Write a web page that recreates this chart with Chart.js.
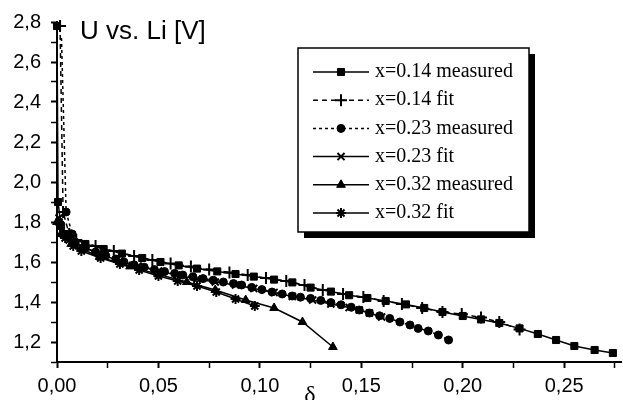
<!DOCTYPE html>
<html>
<head>
<meta charset="utf-8">
<script src="https://cdn.jsdelivr.net/npm/chart.js@4/dist/chart.umd.min.js"></script>
<style>
  html, body { margin: 0; padding: 0; background: #fff; }
  #wrap { width: 623px; height: 400px; }
</style>
</head>
<body>
<div id="wrap"><canvas id="chart" width="623" height="400"></canvas></div>
<script>
// x = 0.14 measured
const delta14m = [0, 0.0005, 0.002, 0.004, 0.014, 0.023, 0.032, 0.042, 0.051, 0.060, 0.069, 0.079, 0.088, 0.097, 0.107, 0.116, 0.125, 0.135, 0.144, 0.153, 0.162, 0.172, 0.181, 0.190, 0.200, 0.209, 0.218, 0.228, 0.237, 0.246, 0.255, 0.265, 0.274];
const u14m = [2.78, 1.90, 1.78, 1.74, 1.69, 1.665, 1.642, 1.62, 1.60, 1.583, 1.567, 1.553, 1.54, 1.527, 1.512, 1.498, 1.472, 1.452, 1.434, 1.42, 1.405, 1.388, 1.37, 1.35, 1.33, 1.313, 1.295, 1.268, 1.24, 1.21, 1.18, 1.16, 1.145];

// x = 0.14 fit
const delta14f = [0.0015, 0.003, 0.006, 0.0095, 0.019, 0.028, 0.038, 0.047, 0.056, 0.066, 0.075, 0.085, 0.094, 0.103, 0.113, 0.122, 0.131, 0.141, 0.151, 0.161, 0.170, 0.180, 0.190, 0.1995, 0.209, 0.218, 0.228];
const u14f = [2.78, 1.85, 1.74, 1.71, 1.68, 1.655, 1.63, 1.61, 1.592, 1.577, 1.562, 1.548, 1.535, 1.52, 1.505, 1.485, 1.46, 1.44, 1.425, 1.405, 1.39, 1.37, 1.35, 1.34, 1.322, 1.30, 1.262];

// x = 0.23 measured
const delta23m = [0.0022, 0.0045, 0.0075, 0.009, 0.014, 0.019, 0.024, 0.029, 0.033, 0.038, 0.043, 0.048, 0.053, 0.058, 0.062, 0.067, 0.072, 0.077, 0.082, 0.087, 0.091, 0.096, 0.101, 0.106, 0.111, 0.116, 0.120, 0.125, 0.130, 0.135, 0.140, 0.145, 0.149, 0.154, 0.159, 0.164, 0.169, 0.174, 0.178, 0.183, 0.188, 0.193];
const u23m = [2.72, 1.85, 1.74, 1.70, 1.672, 1.65, 1.632, 1.615, 1.60, 1.586, 1.574, 1.562, 1.552, 1.543, 1.535, 1.526, 1.517, 1.509, 1.50, 1.492, 1.485, 1.473, 1.462, 1.45, 1.44, 1.43, 1.424, 1.418, 1.408, 1.397, 1.386, 1.374, 1.36, 1.345, 1.331, 1.318, 1.30, 1.285, 1.268, 1.255, 1.235, 1.21];

// x = 0.23 fit
const delta23f = [0.001, 0.003, 0.006, 0.0115, 0.021, 0.031, 0.040, 0.050, 0.059, 0.069, 0.078, 0.088, 0.097, 0.107, 0.116, 0.126, 0.135, 0.144, 0.149, 0.154, 0.160];
const u23f = [1.82, 1.74, 1.71, 1.68, 1.64, 1.605, 1.58, 1.555, 1.535, 1.515, 1.50, 1.485, 1.468, 1.448, 1.428, 1.41, 1.39, 1.372, 1.36, 1.345, 1.325];

// x = 0.32 measured
const delta32m = [0, 0.002, 0.007, 0.021, 0.036, 0.050, 0.064, 0.078, 0.093, 0.107, 0.121, 0.136];
const u32m = [1.80, 1.74, 1.69, 1.625, 1.578, 1.538, 1.50, 1.46, 1.41, 1.37, 1.30, 1.175];

// x = 0.32 fit
const delta32f = [0.001, 0.004, 0.008, 0.012, 0.0215, 0.031, 0.0405, 0.050, 0.0595, 0.069, 0.0785, 0.088, 0.0975];
const u32f = [1.80, 1.72, 1.68, 1.655, 1.62, 1.59, 1.56, 1.53, 1.505, 1.48, 1.45, 1.415, 1.38];

const labels = ["x=0.14 measured", "x=0.14 fit", "x=0.23 measured", "x=0.23 fit", "x=0.32 measured", "x=0.32 fit"];

const toPts = (xs, ys) => xs.map((x, i) => ({ x, y: ys[i] }));
const fmtComma = (v, d) => v.toFixed(d).replace(".", ",");
const onStep = (v, step) => Math.abs(v / step - Math.round(v / step)) < 1e-6;

const mk = (label, data, style, radius, dash) => ({
  label,
  data,
  showLine: true,
  borderColor: "#000",
  backgroundColor: "#000",
  borderWidth: 1.5,
  borderDash: dash,
  pointStyle: style,
  pointRadius: radius,
  pointBorderWidth: style === "cross" || style === "crossRot" || style === "star" ? 2 : 1,
  pointBackgroundColor: "#000",
  pointBorderColor: "#000",
  tension: 0,
  clip: false,
});

const datasets = [
  mk(labels[0], toPts(delta14m, u14m), "rect", 5, []),
  mk(labels[1], toPts(delta14f, u14f), "cross", 6, [5, 4]),
  mk(labels[2], toPts(delta23m, u23m), "circle", 4, [3, 3]),
  mk(labels[3], toPts(delta23f, u23f), "crossRot", 5, []),
  mk(labels[4], toPts(delta32m, u32m), "triangle", 5, []),
  mk(labels[5], toPts(delta32f, u32f), "star", 5, []),
];
// the dotted curve starts high on the axis without a visible dot
datasets[2].pointRadius = (c) => (c.dataIndex === 0 ? 0 : 4);

const boxLegend = {
  id: "boxLegend",
  afterDatasetsDraw(chart) {
    const { ctx } = chart;
    const x = 298, y = 48, w = 231, h = 184;
    ctx.save();
    ctx.fillStyle = "#000";
    ctx.fillRect(x + 6, y + 6, w, h);
    ctx.fillStyle = "#fff";
    ctx.fillRect(x, y, w, h);
    ctx.lineWidth = 1.5;
    ctx.strokeStyle = "#000";
    ctx.strokeRect(x, y, w, h);
    chart.data.datasets.forEach((ds, i) => {
      const cy = 72 + i * 28.2;
      ctx.strokeStyle = "#000";
      ctx.fillStyle = "#000";
      ctx.lineWidth = ds.borderWidth;
      ctx.setLineDash(ds.borderDash || []);
      ctx.beginPath();
      ctx.moveTo(313, cy);
      ctx.lineTo(369, cy);
      ctx.stroke();
      ctx.setLineDash([]);
      ctx.lineWidth = ds.pointBorderWidth;
      Chart.helpers.drawPoint(ctx, {
        pointStyle: ds.pointStyle, radius: typeof ds.pointRadius === "number" ? ds.pointRadius : 4,
        borderWidth: ds.pointBorderWidth, rotation: 0,
      }, 341, cy);
      ctx.font = "20px 'Liberation Serif', 'Times New Roman', serif";
      ctx.textBaseline = "middle";
      ctx.textAlign = "left";
      ctx.fillText(ds.label, 375, cy);
    });
    ctx.restore();
  },
};

const annotations = {
  id: "annotations",
  afterDraw(chart) {
    const { ctx, chartArea } = chart;
    ctx.save();
    ctx.fillStyle = "#000";
    ctx.font = "26px 'Liberation Sans', Arial, sans-serif";
    ctx.textBaseline = "alphabetic";
    ctx.textAlign = "left";
    ctx.fillText("U vs. Li [V]", chartArea.left + 23, chartArea.top + 17);
    ctx.font = "24px 'Liberation Serif', 'Times New Roman', serif";
    ctx.textAlign = "center";
    ctx.fillText("δ", 310, 402);
    ctx.restore();
  },
};

const tickFont = { family: "'Liberation Sans', Arial, sans-serif", size: 20 };

new Chart(document.getElementById("chart"), {
  type: "scatter",
  data: { datasets },
  plugins: [boxLegend, annotations],
  options: {
    responsive: false,
    animation: false,
    layout: { autoPadding: false, padding: { top: 22, right: 2, left: 0, bottom: 0 } },
    plugins: { legend: { display: false }, tooltip: { enabled: false } },
    scales: {
      x: {
        type: "linear",
        min: 0,
        max: 0.278,
        afterFit: (s) => { s.height = 38; },
        border: { display: true, color: "#000", width: 2 },
        grid: {
          drawOnChartArea: false,
          tickLength: 6,
          tickColor: "#000",
          tickWidth: (c) => (c.tick && onStep(c.tick.value, 0.05) ? 2 : 1.5),
        },
        ticks: {
          stepSize: 0.025,
          includeBounds: false,
          autoSkip: false,
          maxRotation: 0,
          padding: 6,
          color: "#000",
          font: tickFont,
          callback: (v) => (onStep(v, 0.05) ? fmtComma(v, 2) : ""),
        },
      },
      y: {
        type: "linear",
        min: 1.1,
        max: 2.8,
        afterFit: (s) => { s.width = 57; },
        border: { display: true, color: "#000", width: 2 },
        grid: {
          drawOnChartArea: false,
          tickLength: 6,
          tickColor: "#000",
          tickWidth: (c) => (c.tick && onStep(c.tick.value, 0.2) ? 2 : 1.5),
        },
        ticks: {
          stepSize: 0.1,
          includeBounds: false,
          autoSkip: false,
          padding: 10,
          color: "#000",
          font: tickFont,
          callback: (v) => (onStep(v, 0.2) ? fmtComma(v, 1) : ""),
        },
      },
    },
  },
});
</script>
</body>
</html>
